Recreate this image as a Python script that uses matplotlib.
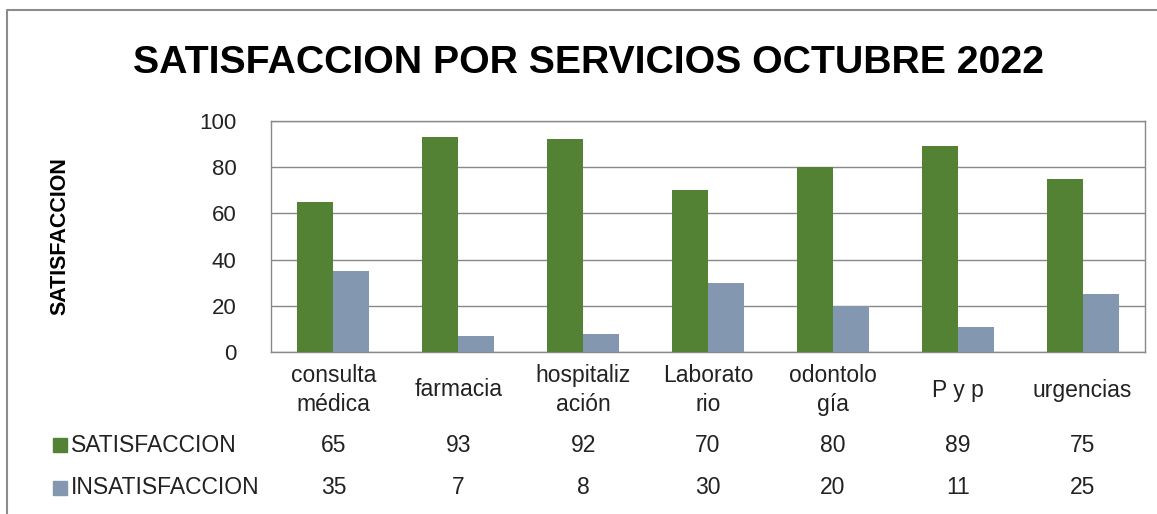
import matplotlib
matplotlib.use("Agg")
from matplotlib import pyplot as plt
import matplotlib.transforms as mtransforms
from matplotlib.lines import Line2D
import numpy as np

plt.rcParams['font.family'] = ['Liberation Sans', 'DejaVu Sans']

categories = ["consulta\nmédica", "farmacia", "hospitaliz\nación", "Laborato\nrio",
              "odontolo\ngía", "P y p", "urgencias"]
series_names = ["SATISFACCION", "INSATISFACCION"]
satisfaccion = [65, 93, 92, 70, 80, 89, 75]
insatisfaccion = [35, 7, 8, 30, 20, 11, 25]
colors = ["#548235", "#8497B0"]


def main():
    W, H = 1157, 514
    fig = plt.figure(figsize=(W / 100, H / 100), dpi=100)
    ax = fig.add_axes([271 / W, 1 - 352 / H, (1145 - 271) / W, (352 - 121) / H])

    x = np.arange(len(categories))
    bw = 0.288
    ax.bar(x - bw / 2, satisfaccion, bw, color=colors[0], zorder=3)
    ax.bar(x + bw / 2, insatisfaccion, bw, color=colors[1], zorder=3)

    ax.set_xlim(-0.5, len(categories) - 0.5)
    ax.set_ylim(0, 100)
    ax.set_yticks(range(0, 101, 20))
    ax.tick_params(axis='y', length=0, labelsize=16, pad=25, colors='#222222')
    ax.set_xticks([])
    ax.yaxis.grid(True, color='#888888', lw=1, zorder=0)
    for s in ax.spines.values():
        s.set_color('#888888')
        s.set_linewidth(1)

    # category labels and data table
    fs = 16.5
    tr = mtransforms.blended_transform_factory(ax.transData, fig.transFigure)
    for i, lab in enumerate(categories):
        fig.text(i, 1 - 390 / H, lab, transform=tr, ha='center', va='center',
                 fontsize=fs, linespacing=1.3, color='#222222')
        fig.text(i, 1 - 445 / H, str(satisfaccion[i]), transform=tr, ha='center',
                 va='center', fontsize=fs, color='#222222')
        fig.text(i, 1 - 488 / H, str(insatisfaccion[i]), transform=tr, ha='center',
                 va='center', fontsize=fs, color='#222222')

    for name, c, yy in zip(series_names, colors, [445, 488]):
        fig.patches.append(plt.Rectangle((53 / W, 1 - (yy + 7) / H), 14 / W, 14 / H,
                                         transform=fig.transFigure, color=c))
        fig.text(71 / W, 1 - yy / H, name, ha='left', va='center', fontsize=fs,
                 color='#222222')

    fig.text(589 / W, 1 - 63 / H, "SATISFACCION POR SERVICIOS OCTUBRE 2022",
             ha='center', va='center', fontsize=28.3, fontweight='bold')
    fig.text(60 / W, 1 - 236 / H, "SATISFACCION", rotation=90, ha='center',
             va='center', fontsize=15.5, fontweight='bold')

    # chart border (left and top)
    fig.lines.append(Line2D([7 / W, 7 / W, 1.0], [0, 1 - 9.5 / H, 1 - 9.5 / H],
                            transform=fig.transFigure, color='#8c8c8c', lw=1.5))

    fig.savefig("out.png", dpi=100)
    plt.close()


if __name__ == '__main__':
    main()
